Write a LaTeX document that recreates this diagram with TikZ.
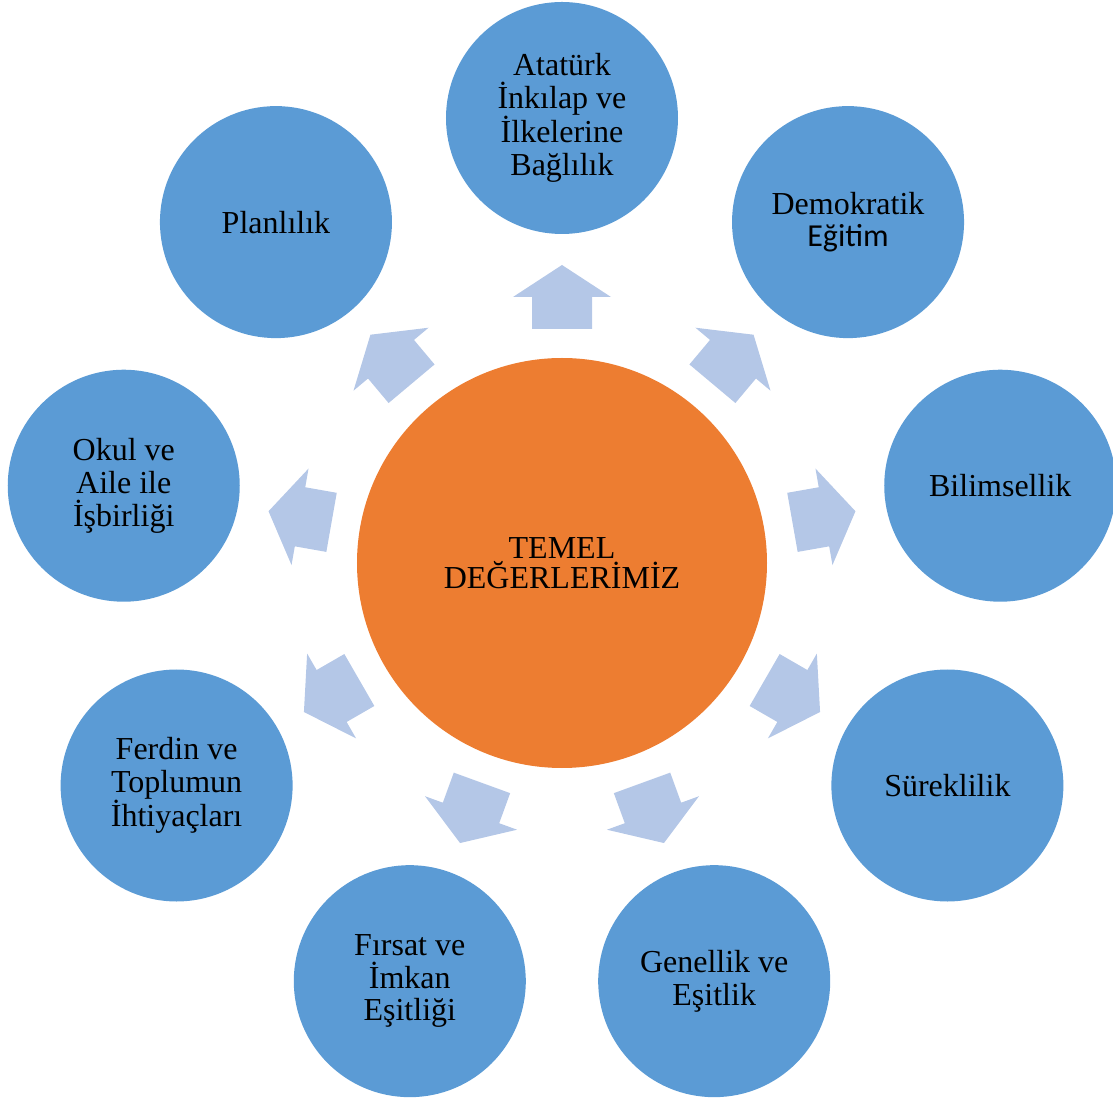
\documentclass[tikz,border=0pt]{standalone}
\usepackage{fontspec}
\setmainfont{Liberation Serif}
\newfontfamily\calibri{Carlito}
\definecolor{circblue}{HTML}{5B9BD5}
\definecolor{circorange}{HTML}{ED7D31}
\definecolor{arrowblue}{HTML}{B4C7E7}
\begin{document}
\begin{tikzpicture}[x=1pt,y=1pt,
    value/.style={circle, fill=circblue, minimum size=232pt, inner sep=0pt, align=center,
        font=\fontsize{32}{32.7}\selectfont},
    centre/.style={circle, fill=circorange, minimum size=410pt, inner sep=0pt, align=center,
        font=\fontsize{32}{30}\selectfont},
    blockarrow/.style={fill=arrowblue}]
    \useasboundingbox (-562,-536) rectangle (551,563);

    % arrows
    \foreach \a in {90,50,10,-30,-70,-110,-150,170,130}
        \fill[blockarrow, rotate=\a-90] (-30,234) -- (30,234) -- (30,266) -- (49,266)
            -- (0,298) -- (-49,266) -- (-30,266) -- cycle;

    \node[centre] (temel) at (0,0) {TEMEL\\DEĞERLERİMİZ};

    \node[value] (ataturk) at (90:445) {Atatürk\\İnkılap ve\\İlkelerine\\Bağlılık};
    \node[value] (demokratik) at (50:445) {Demokratik\\{\calibri Eğitim}};
    \node[value] (bilim) at (10:445) {Bilimsellik};
    \node[value] (sureklilik) at (-30:445) {Süreklilik};
    \node[value] (genellik) at (-70:445) {Genellik ve\\Eşitlik};
    \node[value] (firsat) at (-110:445) {Fırsat ve\\İmkan\\Eşitliği};
    \node[value] (ferdin) at (-150:445) {Ferdin ve\\Toplumun\\İhtiyaçları};
    \node[value] (okul) at (170:445) {Okul ve\\Aile ile\\İşbirliği};
    \node[value] (planlilik) at (130:445) {Planlılık};

\end{tikzpicture}
\end{document}
